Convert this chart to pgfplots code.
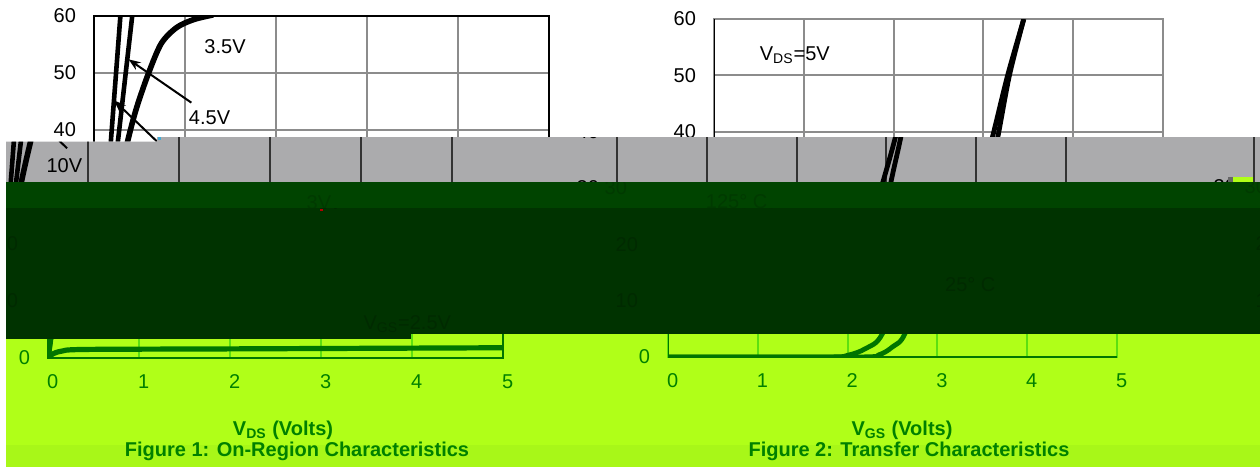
\documentclass[border=0pt]{standalone}
\usepackage{fontspec}
\setmainfont{Liberation Sans}
\usepackage{pgfplots}
\usepackage{pgfplotstable}
\pgfplotsset{compat=1.18}
\usetikzlibrary{arrows.meta}

\definecolor{bandgray}{HTML}{ABABAD}
\definecolor{gridgray}{HTML}{8C8C8C}
\definecolor{darkA}{HTML}{004400}
\definecolor{darkB}{HTML}{003300}
\definecolor{darkAt}{HTML}{003A00}
\definecolor{darkBt}{HTML}{002A00}
\definecolor{lime}{HTML}{B0FF18}
\definecolor{limeB}{HTML}{A8F718}
\definecolor{limeline}{HTML}{007500}
\definecolor{limegrid}{HTML}{5CE010}
\definecolor{limetext}{HTML}{008000}

% figure 1, V_DS vs I_D
\pgfplotstableread{
0 0
0.10 20
0.19 39
0.29 60
}\tenV
\pgfplotstableread{
0 0
0.13 20
0.27 39
0.42 60
}\fourfiveV
\pgfplotstableread{
0 0
0.10 12
0.20 24
0.27 31
0.38 38.7
0.47 44
0.60 50
0.74 55.2
0.91 58
1.10 59.4
1.31 60.2
}\threefiveV
\pgfplotstableread{
0 0
0.10 11
0.25 20
0.50 24
1 25
3 25.5
5 26
}\threeV
\pgfplotstableread{
0 0
0.05 0.7
0.15 1.2
0.40 1.5
2 1.6
5 1.8
}\twofiveV
% figure 2, V_GS vs I_D
\pgfplotstableread{
0 0
1.75 0
2.00 0.3
2.20 1.5
2.39 4.2
2.70 17
2.96 31
3.10 39
3.27 50
3.45 60
}\hot
\pgfplotstableread{
0 0
2.10 0
2.35 0.4
2.50 1.8
2.64 4.2
2.85 15
3.05 31
3.16 39
3.29 50
3.45 60
}\cold

\newcommand{\labfont}{\fontsize{10}{12}\selectfont}
\tikzset{lab/.style={font=\labfont,inner sep=0pt}}
\pgfplotsset{chart/.style={
  scale only axis,
  xmin=0, xmax=5, ymin=0, ymax=60,
  xtick={0,...,5}, ytick={0,10,...,60},
  major tick length=0pt,
  xmajorgrids, ymajorgrids,
  /pgf/number format/assume math mode=true,
  tick label style={font=\labfont},
  xticklabel style={xshift=2.3pt,yshift=-4.7pt},
  yticklabel style={xshift=-5.5pt},
  anchor=south west,
}}

% #1 shift in px, #2 curves, #3 grid, #4 frame, #5 text
\newcommand{\leftchart}[5]{
\begin{axis}[chart, width=227.5pt, height=171pt, at={({(94+(#1))*0.5pt},-179pt)},
  axis line style={#4, line width=1pt},
  grid style={#3, line width=1pt},
  tick label style={text=#5},
  ]
\addplot[#2, line width=2.3pt] table {\tenV};
\addplot[#2, line width=2.3pt] table {\fourfiveV};
\addplot[#2, smooth, line width=2.8pt] table {\threefiveV};
\addplot[#2, smooth, line width=2.6pt] table {\threeV};
\addplot[#2, smooth, line width=2.6pt] table {\twofiveV};
\node[lab,text=#5] at (axis cs:1.44,54.6) {3.5V};
\node[lab,text=#5] at (axis cs:1.27,42.2) {4.5V};
\node[lab,text=#5] at (axis cs:0.74,33.8) {10V};
\node[lab,text=#5] at (axis cs:3.23,27.3) {3V};
\node[lab,text=#5] at (axis cs:4.08,6) {V\textsubscript{GS}=2.5V};
\draw[#5, line width=1pt, -{Stealth[length=6pt]}] (axis cs:1.07,44.8) -- (axis cs:0.38,52.4);
\draw[#5, line width=1pt, -{Stealth[length=6pt]}] (axis cs:0.77,36.8) -- (axis cs:0.22,45.2);
\node[lab,text=#5,rotate=90,font=\labfont\bfseries] at (axis cs:-0.78,29.5) {I\textsubscript{D} (A)};
\end{axis}
}
\newcommand{\rightchart}[5]{
\begin{axis}[chart, width=224.5pt, height=169pt, at={({(714+(#1))*0.5pt},-178.5pt)},
  axis line style={#3, line width=1pt},
  grid style={#3, line width=1pt},
  tick label style={text=#5},
  ]
\addplot[#2, smooth, line width=2.4pt] table {\hot};
\addplot[#2, smooth, line width=2.4pt] table {\cold};
\draw[#4, line width=1pt] (axis cs:0,60) -- (axis cs:0,0) -- (axis cs:5,0);
\node[lab,text=#5] at (axis cs:0.90,53.6) {V\textsubscript{DS}=5V};
\node[lab,text=#5] at (axis cs:1.02,27.5) {125° C};
\node[lab,text=#5] at (axis cs:3.5,12.8) {25° C};
\node[lab,text=#5,rotate=90,font=\labfont\bfseries] at (axis cs:-0.857,28.4) {I\textsubscript{D} (A)};
\end{axis}
}

\begin{document}
\begin{tikzpicture}[x=0.5pt,y=-0.5pt]
\path[use as bounding box, fill=white] (0,0) rectangle (1260,467);

% top slice, no displacement
\begin{scope}
\clip (0,0) -- (1260,0) -- (1260,137) -- (157,137) -- (157,141.5) -- (0,141.5) -- cycle;
\leftchart{0}{black}{gridgray}{black}{black}
\rightchart{0}{black}{gridgray}{black}{black}
\end{scope}

% grey band
\fill[bandgray] (6,141.5) -- (157,141.5) -- (157,137) -- (1260,137) -- (1260,182) -- (6,182) -- cycle;
\begin{scope}
\clip (6,141.5) -- (157,141.5) -- (157,137) -- (1260,137) -- (1260,182) -- (6,182) -- cycle;
\leftchart{-97}{black}{black!80}{black!80}{black}
\rightchart{-97}{black}{black!80}{black!80}{black}
\leftchart{1160}{black}{black!80}{black!80}{black}
\end{scope}
\fill[lime] (1233,176.5) rectangle (1253,182);
\fill[bandgray!60!black] (1228,177) rectangle (1233,182);
\fill[cyan!70!gray] (158,137) rectangle (161,140);

% dark bands
\fill[darkA] (6,182) rectangle (1260,208);
\begin{scope}
\clip (6,182) rectangle (1260,208);
\leftchart{-69}{darkA}{darkA}{darkA}{darkAt}
\rightchart{-69}{darkA}{darkA}{darkA}{darkAt}
\leftchart{1191}{darkA}{darkA}{darkA}{darkAt}
\end{scope}
\fill[darkB] (6,208) -- (1260,208) -- (1260,334) -- (411,334) -- (411,339) -- (6,339) -- cycle;
\begin{scope}
\clip (6,208) -- (1260,208) -- (1260,334) -- (411,334) -- (411,339) -- (6,339) -- cycle;
\leftchart{-58}{darkB}{darkB}{darkB}{darkBt}
\rightchart{-58}{darkB}{darkB}{darkB}{darkBt}
\leftchart{1202}{darkB}{darkB}{darkB}{darkBt}
\end{scope}
\fill[red!70!black] (320,209) rectangle (323,211);

% lime region
\fill[lime] (6,339) -- (411,339) -- (411,334) -- (1260,334) -- (1260,445) -- (6,445) -- cycle;
\fill[limeB] (6,445) rectangle (1260,467);
\begin{scope}
\clip (6,339) -- (411,339) -- (411,334) -- (1260,334) -- (1260,467) -- (6,467) -- cycle;
\leftchart{-46}{limeline}{limegrid}{limeline}{limetext}
\rightchart{-46}{limeline}{limegrid}{limeline}{limetext}
\end{scope}
\node[lab,text=limetext,font=\labfont\bfseries] at (283,430) {V\textsubscript{DS} (Volts)};
\node[lab,text=limetext,font=\labfont\bfseries] at (297,451) {Figure 1: On-Region Characteristics};
\node[lab,text=limetext,font=\labfont\bfseries] at (902,430) {V\textsubscript{GS} (Volts)};
\node[lab,text=limetext,font=\labfont\bfseries] at (909,451) {Figure 2: Transfer Characteristics};
\end{tikzpicture}
\end{document}
